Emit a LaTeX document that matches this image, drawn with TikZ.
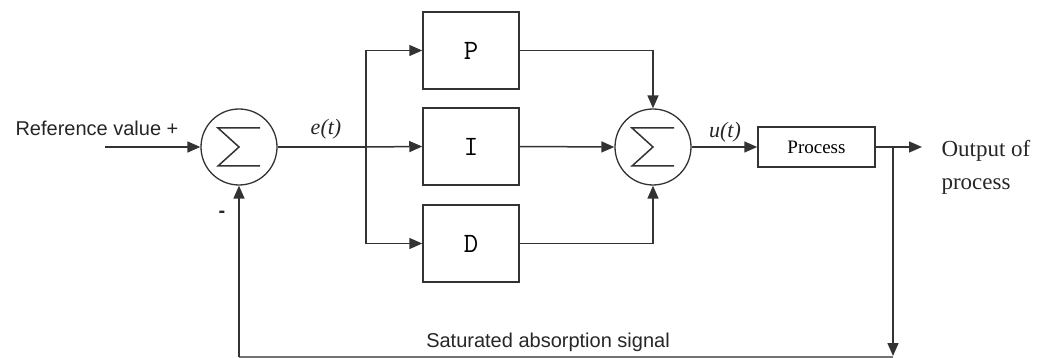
\documentclass[tikz,border=0pt]{standalone}
\usepackage{fontspec}
\setmainfont{Liberation Serif}
\setsansfont{Liberation Sans}
\usetikzlibrary{arrows.meta}
\tikzset{
  line/.style={draw=black!80, line width=1.5pt},
  arr/.style={-{Triangle[length=13pt,width=11pt]}},
  blk/.style={draw=black!80, line width=1.5pt, rectangle, minimum width=96pt, minimum height=77pt, inner sep=0pt, font=\ttfamily\fontsize{28}{30}\selectfont},
  sumnode/.style={circle, draw=black!80, line width=1.3pt, minimum size=76pt, inner sep=0pt},
  sig/.style={draw=black!80, line width=1.5pt, line join=miter},
  sanslbl/.style={font=\sffamily\fontsize{20}{24}\selectfont, text=black!85},
  seriflbl/.style={font=\rmfamily\fontsize{23}{28}\selectfont, text=black!85},
  itlbl/.style={font=\rmfamily\itshape\fontsize{22}{26}\selectfont, text=black!85}
}
\newcommand\sigmasym[1]{\draw[sig] ([shift={(21,-19)}]#1.center) -- ([shift={(-21,-19)}]#1.center) -- (#1.center) -- ([shift={(-21,19)}]#1.center) -- ([shift={(21,19)}]#1.center);}
\begin{document}
\begin{tikzpicture}[x=1pt,y=-1pt]
\useasboundingbox (0,0) rectangle (1042,358);
% summing junctions
\node[sumnode] (s1) at (239,147) {};
\node[sumnode] (s2) at (653,147) {};
\sigmasym{s1}
\sigmasym{s2}
% PID blocks
\node[blk] (P) at (471,50.5) {P};
\node[blk] (I) at (471,146.5) {I};
\node[blk] (D) at (471,243.5) {D};
% process
\node[draw=black!80, line width=1.5pt, minimum width=117pt, minimum height=40pt, inner sep=0pt, font=\rmfamily\fontsize{19}{22}\selectfont] (proc) at (816.5,147) {Process};
% coordinates
\coordinate (in) at (105,147);
\coordinate (br) at (366,147);
\coordinate (out) at (922,147);
\coordinate (tap) at (893,147);
\coordinate (fb) at (893,356);
\coordinate (bot) at (893,357);
\coordinate (corner) at (s1.south |- bot);
% connectors
\draw[line,arr] (in) -- (s1.west);
\draw[line] (s1.east) -- (br);
\draw[line,arr] (br) -- (I.west);
\draw[line,arr] (br) |- (P.west);
\draw[line,arr] (br) |- (D.west);
\draw[line,arr] (P.east) -| (s2.north);
\draw[line,arr] (I.east) -- (s2.west);
\draw[line,arr] (D.east) -| (s2.south);
\draw[line,arr] (s2.east) -- (proc.west);
\draw[line,arr] (proc.east) -- (out);
\draw[line,arr] (tap) -- (fb);
\draw[line,draw=black!55] (bot) -- (corner);
\draw[line,arr] (corner) -- (s1.south);
% labels
\node[sanslbl, anchor=base west] (reflbl) at (12,136) {Reference value +};
\node[sanslbl, font=\sffamily\bfseries\fontsize{20}{24}\selectfont] (minus) at (222,214) {-};
\node[itlbl, anchor=base] (elbl) at (326,135) {e(t)};
\node[itlbl, anchor=base] (ulbl) at (725,138) {u(t)};
\node[seriflbl, anchor=base west] (out1) at (938,157) {Output of};
\node[seriflbl, anchor=base west] (out2) at (938,190) {process};
\node[sanslbl, anchor=base] (satlbl) at (548,347) {Saturated absorption signal};
\end{tikzpicture}
\end{document}
